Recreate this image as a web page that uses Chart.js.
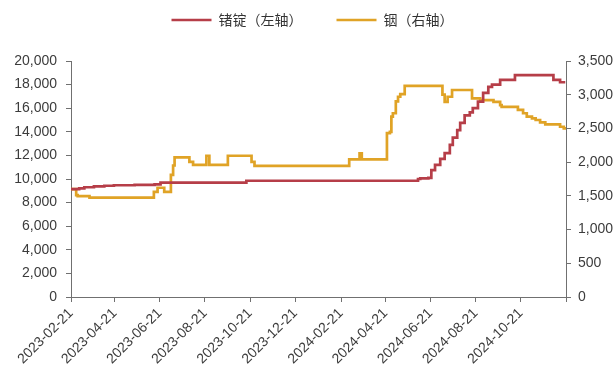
<!DOCTYPE html>
<html><head><meta charset="utf-8">
<script src="https://cdn.jsdelivr.net/npm/chart.js@4.4.1/dist/chart.umd.min.js"></script>
<style>html,body{margin:0;padding:0;background:#fff;}canvas{display:block;}</style>
</head><body>
<canvas id="c" width="614" height="372"></canvas>
<script>
// x-axis tick labels (every two months) and axis end
const tickLabels = ['2023-02-21','2023-04-21','2023-06-21','2023-08-21','2023-10-21','2023-12-21',
  '2024-02-21','2024-04-21','2024-06-21','2024-08-21','2024-10-21'];
const axisEnd = '2024-12-21';

// 锗锭 (left axis) – dates where the price changes, and the new price
const geDates = ['2023-02-21','2023-03-04','2023-03-11','2023-03-24','2023-04-07','2023-04-20','2023-05-18',
  '2023-06-14','2023-06-22','2023-10-16','2024-06-04','2024-06-07','2024-06-18','2024-06-22','2024-06-27',
  '2024-07-04','2024-07-10','2024-07-17','2024-07-21','2024-07-27','2024-07-31','2024-08-06','2024-08-13',
  '2024-08-17','2024-08-24','2024-08-31','2024-09-07','2024-09-12','2024-09-23','2024-10-13','2024-12-04',
  '2024-12-13','2024-12-20'];
const geValues = [9150,9200,9300,9380,9430,9470,9500,
  9550,9700,9850,10000,10050,10100,10750,11200,
  11700,12200,12900,13500,14150,14750,15400,15650,
  16000,16550,17300,17800,18000,18400,18800,18400,
  18200,18200];

// 铟 (right axis)
const inDates = ['2023-02-21','2023-02-28','2023-03-02','2023-03-18','2023-06-13','2023-06-18','2023-06-27',
  '2023-07-06','2023-07-09','2023-07-11','2023-07-31','2023-08-05','2023-08-23','2023-08-27','2023-09-21',
  '2023-10-23','2023-10-27','2024-03-03','2024-03-17','2024-03-20','2024-04-23','2024-04-27','2024-04-29',
  '2024-05-01','2024-05-05','2024-05-08','2024-05-11','2024-05-17','2024-07-07','2024-07-10','2024-07-14',
  '2024-07-20','2024-08-16','2024-08-27','2024-09-14','2024-09-23','2024-09-25','2024-10-17','2024-10-24',
  '2024-10-29','2024-11-05','2024-11-10','2024-11-16','2024-11-23','2024-12-13','2024-12-18','2024-12-20'];
const inValues = [1600,1510,1495,1475,1560,1620,1560,
  1810,1950,2070,2005,1960,2095,1960,2095,
  2005,1945,2040,2130,2040,2430,2450,2675,
  2725,2900,2970,3010,3130,3000,2895,2970,
  3070,2945,2920,2895,2845,2820,2775,2725,
  2675,2650,2625,2590,2560,2525,2500,2480];

const seriesNames = ['锗锭（左轴）','铟（右轴）'];

function dayIndex(s){
  const p = s.split('-').map(Number);
  return Math.round((Date.UTC(p[0],p[1]-1,p[2]) - Date.UTC(2023,1,21)) / 86400000);
}
const tickDays = tickLabels.map(dayIndex);
const endDay = dayIndex(axisEnd);
const labelByDay = {};
tickLabels.forEach((l,i)=>{ labelByDay[tickDays[i]] = l; });

const toPoints = (ds, vs) => ds.map((d,i)=>({x: dayIndex(d), y: vs[i]}));

const axisColor = '#707070';
const textColor = '#3c3c3c';
const tickFont = {family: "'Liberation Sans', Arial, sans-serif", size: 14};

const legendSpace = {
  id: 'legendSpace',
  beforeInit(chart){
    const lg = chart.legend;
    const f = lg.fit;
    lg.fit = function(){ f.call(this); this.height = 82; };
  },
  afterLayout(chart){
    chart.legend.left -= 6;
    chart.legend.right -= 6;
  }
};

new Chart(document.getElementById('c'), {
  type: 'line',
  data: {
    datasets: [
      {label: seriesNames[0], data: toPoints(geDates, geValues), yAxisID: 'y',
       borderColor: '#B63E48', backgroundColor: '#B63E48', borderWidth: 2.7,
       pointRadius: 0, stepped: true, fill: false},
      {label: seriesNames[1], data: toPoints(inDates, inValues), yAxisID: 'y1',
       borderColor: '#E0A326', backgroundColor: '#E0A326', borderWidth: 2.7,
       pointRadius: 0, stepped: true, fill: false}
    ]
  },
  options: {
    responsive: false,
    animation: false,
    layout: {padding: {top: -21, left: 0, right: 0, bottom: 0}},
    plugins: {
      legend: {
        position: 'top', fullSize: false,
        labels: {
          usePointStyle: true, pointStyle: 'line', pointStyleWidth: 40,
          padding: 34, color: '#333',
          font: {family: "'Noto Sans CJK SC', sans-serif", size: 14}
        }
      },
      tooltip: {enabled: false}
    },
    scales: {
      x: {
        type: 'linear', min: 0, max: endDay,
        afterBuildTicks(s){ s.ticks = tickDays.concat([endDay]).map(v=>({value: v})); },
        afterFit(s){ s.height = 75; },
        ticks: {autoSkip: false, maxRotation: 45, minRotation: 45, padding: 3,
          color: textColor, font: tickFont,
          callback: (v) => labelByDay[v] || ''},
        grid: {drawOnChartArea: false, drawTicks: true, tickLength: 5, color: axisColor},
        border: {display: true, color: axisColor, width: 1}
      },
      y: {
        position: 'left', min: 0, max: 20000,
        afterFit(s){ s.width = 71; },
        ticks: {stepSize: 2000, padding: 9, color: textColor, font: tickFont,
          callback: (v) => v.toLocaleString('en-US')},
        grid: {drawOnChartArea: false, drawTicks: true, tickLength: 5, color: axisColor},
        border: {display: true, color: axisColor, width: 1}
      },
      y1: {
        position: 'right', min: 0, max: 3500,
        afterFit(s){ s.width = 48; },
        ticks: {stepSize: 500, padding: 7, color: textColor, font: tickFont,
          callback: (v) => v.toLocaleString('en-US')},
        grid: {drawOnChartArea: false, drawTicks: true, tickLength: 5, color: axisColor},
        border: {display: true, color: axisColor, width: 1}
      }
    }
  },
  plugins: [legendSpace]
});
</script>
</body></html>
